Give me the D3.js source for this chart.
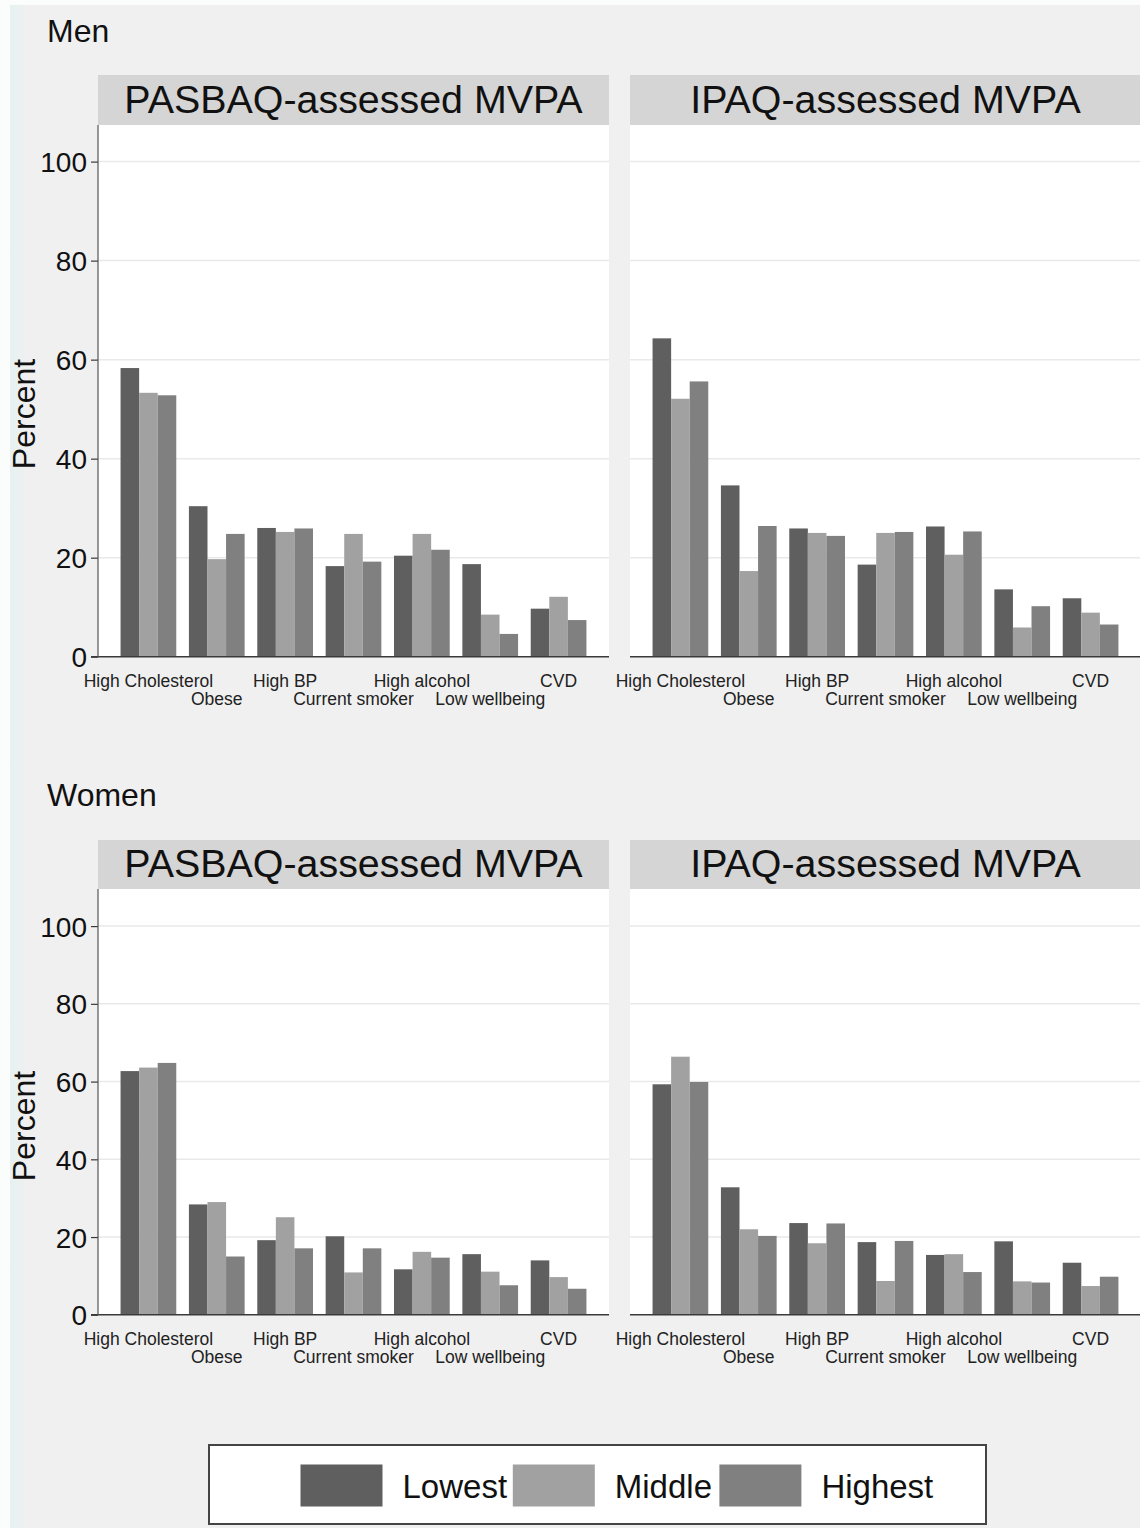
<!DOCTYPE html>
<html>
<head>
<meta charset="utf-8">
<script src="https://cdn.jsdelivr.net/npm/d3@7"></script>
<style>
  html, body { margin: 0; padding: 0; background: #ffffff; }
  svg { display: block; font-family: "Liberation Sans", Arial, sans-serif; }
</style>
</head>
<body>
<svg id="chart" width="1140" height="1528"></svg>
<script>
// Risk factor prevalence by tertile of MVPA, men and women
const categories = ["High Cholesterol", "Obese", "High BP", "Current smoker", "High alcohol", "Low wellbeing", "CVD"];
const series = ["Lowest", "Middle", "Highest"];
const yTicks = [0, 20, 40, 60, 80, 100];
const rows = ["Men", "Women"];
const panels = ["PASBAQ-assessed MVPA", "IPAQ-assessed MVPA"];

// values: [category][Lowest, Middle, Highest]
const menPASBAQ = [[58.3, 53.3, 52.8], [30.4, 19.7, 24.8], [26.0, 25.2, 25.9], [18.3, 24.8, 19.2], [20.4, 24.8, 21.6], [18.7, 8.5, 4.6], [9.7, 12.1, 7.4]];
const menIPAQ = [[64.3, 52.1, 55.6], [34.6, 17.3, 26.4], [25.9, 25.0, 24.4], [18.6, 25.0, 25.2], [26.3, 20.6, 25.3], [13.6, 5.9, 10.2], [11.8, 8.9, 6.5]];
const womenPASBAQ = [[62.7, 63.6, 64.8], [28.4, 29.0, 15.0], [19.2, 25.1, 17.1], [20.2, 10.9, 17.1], [11.7, 16.2, 14.7], [15.6, 11.1, 7.6], [14.0, 9.7, 6.7]];
const womenIPAQ = [[59.3, 66.4, 59.9], [32.8, 22.0, 20.3], [23.6, 18.4, 23.5], [18.7, 8.7, 19.0], [15.4, 15.6, 11.0], [18.9, 8.6, 8.3], [13.4, 7.4, 9.8]];

const data = [[menPASBAQ, menIPAQ], [womenPASBAQ, womenIPAQ]];

const colors = ["#5f5f5f", "#a1a1a1", "#808080"];

const svg = d3.select("#chart");

// page background with a faint tinted left margin
const defs = svg.append("defs");
const grad = defs.append("linearGradient").attr("id", "edge").attr("x1", 0).attr("x2", 1);
grad.append("stop").attr("offset", "0").attr("stop-color", "#e6f1f1");
grad.append("stop").attr("offset", "1").attr("stop-color", "#f0f0f0");
svg.append("rect").attr("x", 0).attr("y", 0).attr("width", 1140).attr("height", 1528).attr("fill", "#fbfdfd");
svg.append("rect").attr("x", 10).attr("y", 5).attr("width", 1130).attr("height", 1523).attr("fill", "#f0f0f0");
svg.append("rect").attr("x", 10).attr("y", 5).attr("width", 16).attr("height", 1523).attr("fill", "url(#edge)");

// layout
const panelX = [[98, 609], [630, 1141]];
const rowLayout = [
  { title: 42, stripTop: 75, stripBottom: 125, y0: 656.7, y100: 161.6, stripText: 112.5, label: 414 },
  { title: 806, stripTop: 840, stripBottom: 889, y0: 1314.8, y100: 926.1, stripText: 876.6, label: 1126 }
];

rows.forEach((rowName, ri) => {
  const L = rowLayout[ri];

  svg.append("text")
    .attr("x", 47).attr("y", L.title)
    .attr("font-size", 32).attr("fill", "#111")
    .text(rowName);

  svg.append("text")
    .attr("transform", `translate(35,${L.label}) rotate(-90)`)
    .attr("text-anchor", "middle")
    .attr("font-size", 32).attr("fill", "#111")
    .text("Percent");

  const y = d3.scaleLinear().domain([0, 100]).range([L.y0, L.y100]);

  panels.forEach((pName, pi) => {
    const [x0, x1] = panelX[pi];
    const g = svg.append("g");

    // strip
    g.append("rect")
      .attr("x", x0).attr("y", L.stripTop)
      .attr("width", x1 - x0).attr("height", L.stripBottom - L.stripTop)
      .attr("fill", "#d5d5d5");
    g.append("text")
      .attr("x", (x0 + x1) / 2).attr("y", L.stripText)
      .attr("text-anchor", "middle")
      .attr("font-size", 39.4).attr("fill", "#111")
      .text(pName);

    // plot region
    g.append("rect")
      .attr("x", x0).attr("y", L.stripBottom)
      .attr("width", x1 - x0).attr("height", L.y0 - L.stripBottom)
      .attr("fill", "#ffffff");

    // grid lines
    g.selectAll(".grid")
      .data(yTicks.filter(t => t > 0))
      .enter().append("line")
      .attr("x1", x0).attr("x2", x1)
      .attr("y1", d => y(d)).attr("y2", d => y(d))
      .attr("stroke", "#e9e9e9").attr("stroke-width", 1.5);

    const x = d3.scaleBand().domain(categories).range([x0, x1]).paddingInner(0.185).paddingOuter(0.33);
    const xs = d3.scaleBand().domain(series).range([0, x.bandwidth()]).padding(0);

    const vals = data[ri][pi];
    const groups = g.selectAll(".grp")
      .data(categories)
      .enter().append("g")
      .attr("transform", d => `translate(${x(d)},0)`);

    groups.selectAll("rect")
      .data((d, i) => series.map((s, si) => ({ s, v: vals[i][si], si })))
      .enter().append("rect")
      .attr("x", d => xs(d.s))
      .attr("width", xs.bandwidth())
      .attr("y", d => y(d.v))
      .attr("height", d => y(0) - y(d.v))
      .attr("fill", d => colors[d.si]);

    // x axis line
    g.append("line")
      .attr("x1", pi === 0 ? x0 - 7 : x0).attr("x2", x1)
      .attr("y1", y(0)).attr("y2", y(0))
      .attr("stroke", "#3a3a3a").attr("stroke-width", 1.5);

    // staggered category labels
    g.selectAll(".xl")
      .data(categories)
      .enter().append("text")
      .attr("x", d => x(d) + x.bandwidth() / 2)
      .attr("y", (d, i) => y(0) + (i % 2 === 0 ? 30.5 : 48.5))
      .attr("text-anchor", "middle")
      .attr("font-size", 17.5).attr("fill", "#222")
      .text(d => d);

    if (pi === 0) {
      const axis = d3.axisLeft(y).tickValues(yTicks).tickSize(7).tickPadding(4);
      const ag = g.append("g").attr("transform", `translate(${x0},0)`).call(axis);
      ag.select(".domain").remove();
      ag.selectAll(".tick line").attr("stroke", "#3a3a3a").attr("stroke-width", 1.2);
      ag.selectAll(".tick text")
        .attr("font-size", 28).attr("font-family", "Liberation Sans, Arial, sans-serif")
        .attr("fill", "#111").attr("dy", "0.36em");
      g.append("line")
        .attr("x1", x0).attr("x2", x0)
        .attr("y1", L.stripBottom).attr("y2", y(0))
        .attr("stroke", "#555").attr("stroke-width", 1.2);
    }
  });
});

// legend
const lg = svg.append("g");
lg.append("rect")
  .attr("x", 209).attr("y", 1445).attr("width", 777).attr("height", 79)
  .attr("fill", "#ffffff").attr("stroke", "#444").attr("stroke-width", 2);
const legendX = [300.5, 512.8, 719.4];
series.forEach((s, i) => {
  lg.append("rect")
    .attr("x", legendX[i]).attr("y", 1464.5)
    .attr("width", 82).attr("height", 42)
    .attr("fill", colors[i]);
  lg.append("text")
    .attr("x", legendX[i] + 102).attr("y", 1497.5)
    .attr("font-size", 33).attr("fill", "#111")
    .text(s);
});
</script>
</body>
</html>
